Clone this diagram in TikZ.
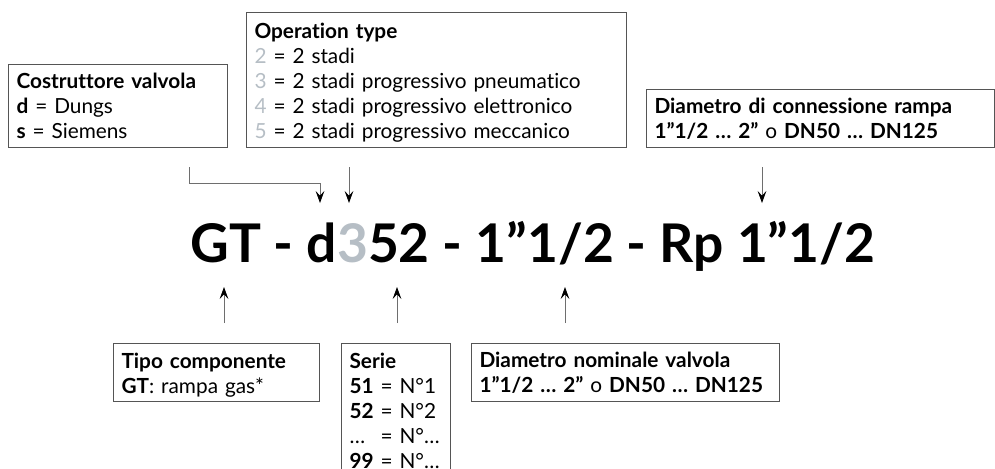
\documentclass[tikz,border=0pt]{standalone}
\usepackage{fontspec}
\setmainfont{Lato}[Ligatures={NoCommon}]
\usetikzlibrary{arrows.meta,positioning}

\definecolor{boxgray}{RGB}{85,85,85}
\definecolor{linegray}{RGB}{110,110,110}
\definecolor{digitgray}{RGB}{182,190,197}

\newcommand{\dg}[1]{\textcolor{digitgray}{#1}}

\begin{document}
\begin{tikzpicture}[
    x = 0.75pt, y = -0.75pt, % one unit = one pixel of the reference
    > = {Stealth[length=9pt,width=6.5pt,inset=3.5pt,black]}, % arrow head style
    line width = 0.6pt % line style
    ]

    \tikzset{infobox/.style={
    draw = boxgray,
    line width = 0.8pt,
    anchor = north west,
    align = left,
    inner xsep = 6pt,
    inner ysep = 0pt,
    font = \fontsize{15.6}{18.75}\selectfont
    }}
    \tikzset{pointer/.style={draw = linegray, ->}}

    \useasboundingbox (0,0) rectangle (995,468);

    % code string
    \node[anchor=base west, inner sep=0pt, font=\fontsize{40}{48}\selectfont\bfseries]
      (code) at (190,262) {GT - d\dg{3}52 - 1”1/2 - Rp 1”1/2};

    % boxes above
    \node[infobox, text width=152.25pt, text height=18pt, text depth=44.25pt]
      (maker) at (8,64) {\textbf{Costruttore valvola}\\
      \textbf{d} = Dungs\\
      \textbf{s} = Siemens};
    \node[infobox, text width=273pt, text height=19.5pt, text depth=81.75pt]
      (optype) at (246,12) {\textbf{Operation type}\\
      \dg{2} = 2 stadi\\
      \dg{3} = 2 stadi progressivo pneumatico\\
      \dg{4} = 2 stadi progressivo elettronico\\
      \dg{5} = 2 stadi progressivo meccanico};
    \node[infobox, text width=249pt, text height=18pt, text depth=25.5pt]
      (conn) at (646,89) {\textbf{Diametro di connessione rampa}\\
      \textbf{1”1/2 … 2”} o \textbf{DN50 … DN125}};

    % boxes below
    \node[infobox, text width=142.5pt, text height=18.75pt, text depth=24.75pt]
      (kind) at (113,343) {\textbf{Tipo componente}\\
      \textbf{GT}: rampa gas*};
    \node[infobox, text width=69.75pt, text height=18.75pt, text depth=87.75pt]
      (serie) at (341,343) {\textbf{Serie}\\
      \mbox{\textbf{51} = N°1}\\
      \mbox{\textbf{52} = N°2}\\
      \mbox{\rlap{…}\hphantom{\textbf{51}} = N°…}\\
      \mbox{\textbf{99} = N°…}};
    \node[infobox, text width=219pt, text height=18pt, text depth=25.5pt]
      (nominal) at (471,343) {\textbf{Diametro nominale valvola}\\
      \textbf{1”1/2 … 2”} o \textbf{DN50 … DN125}};

    % pointer ends
    \coordinate (makerA) at (189,167);
    \coordinate (makerB) at (320,203);
    \coordinate (optA) at (349,167);
    \coordinate (optB) at (349,203);
    \coordinate (connA) at (762,167);
    \coordinate (connB) at (762,203);
    \coordinate (kindA) at (224,323);
    \coordinate (kindB) at (224,287);
    \coordinate (serieA) at (397,323);
    \coordinate (serieB) at (397,287);
    \coordinate (nomA) at (565,323);
    \coordinate (nomB) at (565,287);

    \draw[pointer] (makerA) |- (320,183) -- (makerB);
    \draw[pointer] (optA) -- (optB);
    \draw[pointer] (connA) -- (connB);
    \draw[pointer] (kindA) -- (kindB);
    \draw[pointer] (serieA) -- (serieB);
    \draw[pointer] (nomA) -- (nomB);
\end{tikzpicture}
\end{document}
